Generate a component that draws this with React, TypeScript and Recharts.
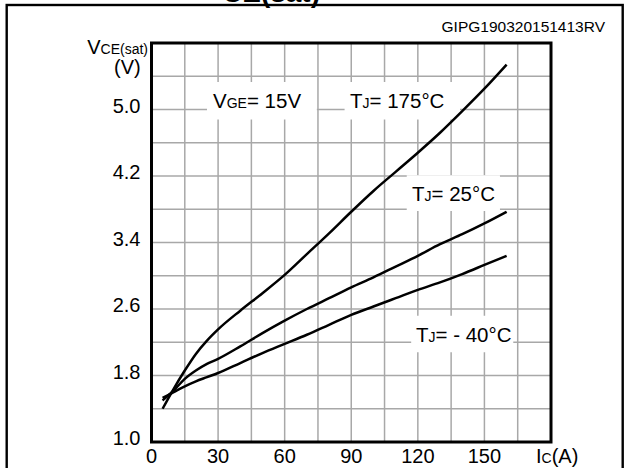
import React from 'react';
import { LineChart, Line, XAxis, YAxis, CartesianGrid, ReferenceArea } from 'recharts';

// collector current Ic (A)
const currents = [5, 10, 15, 20, 25, 30, 40, 50, 60, 70, 80, 90, 100, 110, 120, 130, 140, 150, 160];
// VCE(sat) (V) per junction temperature
const vceTj175 = [1.4, 1.64, 1.86, 2.06, 2.22, 2.355, 2.58, 2.79, 3.01, 3.26, 3.51, 3.77, 4.02, 4.25, 4.48, 4.72, 4.98, 5.25, 5.54];
const vceTj25 = [1.5, 1.62, 1.76, 1.86, 1.94, 2.0, 2.15, 2.31, 2.46, 2.6, 2.73, 2.86, 2.98, 3.11, 3.24, 3.38, 3.5, 3.63, 3.77];
const vceTjM40 = [1.53, 1.6, 1.67, 1.73, 1.78, 1.83, 1.95, 2.07, 2.18, 2.29, 2.41, 2.53, 2.63, 2.73, 2.83, 2.92, 3.02, 3.13, 3.24];

const xTicks = [0, 15, 30, 45, 60, 75, 90, 105, 120, 135, 150, 165, 180];
const xLabeled = [0, 30, 60, 90, 120, 150];
const yTicks = [1.0, 1.4, 1.8, 2.2, 2.6, 3.0, 3.4, 3.8, 4.2, 4.6, 5.0, 5.4, 5.8];
const yLabeled = [1.0, 1.8, 2.6, 3.4, 4.2, 5.0];

const data = currents.map((ic, i) => ({
  ic,
  t175: vceTj175[i],
  t25: vceTj25[i],
  tm40: vceTjM40[i],
}));

const FONT = '"Liberation Sans", Arial, sans-serif';
const W = 625;
const H = 468;
const MARGIN = { top: 43, right: 74, bottom: 0, left: 0 };
const X_AXIS_H = 26;

const XTick = (props: any) => {
  const { x, y, payload } = props;
  const v = payload.value;
  if (v === 180) {
    return (
      <text x={x - 15} y={y + 21} fontSize={20} fontFamily={FONT} fill="#000">
        I<tspan fontSize={14}>C</tspan>(A)
      </text>
    );
  }
  if (!xLabeled.includes(v)) return null;
  return (
    <text x={x} y={y + 21} textAnchor="middle" fontSize={20} fontFamily={FONT} fill="#000">
      {v}
    </text>
  );
};

const YTick = (props: any) => {
  const { x, y, payload } = props;
  const v = payload.value;
  if (!yLabeled.some((l) => Math.abs(l - v) < 1e-6)) return null;
  return (
    <text x={x} y={y + 3} textAnchor="end" fontSize={20} fontFamily={FONT} fill="#000">
      {v.toFixed(1)}
    </text>
  );
};

const Note = ({ x, y, main, sub, rest }: any) => (
  <text x={x} y={y} fontSize={20.5} fontFamily={FONT} fill="#000">
    {main}
    <tspan fontSize={14}>{sub}</tspan>
    {rest}
  </text>
);

const layer: React.CSSProperties = { position: 'absolute', left: 0, top: 0 };

export default function App() {
  return (
    <div style={{ position: 'absolute', left: 0, top: 0, width: W, height: H, background: '#fff', overflow: 'hidden' }}>
      {/* grid + tick labels */}
      <div style={layer}>
        <LineChart width={W} height={H} data={data} margin={MARGIN}>
          <CartesianGrid stroke="#a8a8a8" strokeWidth={1.5} />
          <XAxis dataKey="ic" type="number" domain={[0, 180]} ticks={xTicks} interval={0} height={X_AXIS_H}
            axisLine={false} tickLine={false} tickSize={0} tickMargin={0} tick={<XTick />} />
          <YAxis dataKey="t175" type="number" domain={[1, 5.8]} ticks={yTicks} interval={0} width={151.5}
            axisLine={false} tickLine={false} tickSize={0} tickMargin={11} tick={<YTick />} />
        </LineChart>
      </div>
      {/* white boxes behind the annotations */}
      <div style={layer}>
        <LineChart width={W} height={H} data={data} margin={MARGIN}>
          <XAxis dataKey="ic" type="number" domain={[0, 180]} ticks={xTicks} height={X_AXIS_H} axisLine={false} tickLine={false} tick={false} />
          <YAxis dataKey="t175" type="number" domain={[1, 5.8]} ticks={yTicks} width={151.5} axisLine={false} tickLine={false} tick={false} />
          <ReferenceArea x1={25} x2={74.5} y1={4.88} y2={5.33} fill="#fff" fillOpacity={1} stroke="none" />
          <ReferenceArea x1={87} x2={139} y1={4.88} y2={5.33} fill="#fff" fillOpacity={1} stroke="none" />
          <ReferenceArea x1={115} x2={157} y1={3.78} y2={4.21} fill="#fff" fillOpacity={1} stroke="none" />
          <ReferenceArea x1={117} x2={163} y1={2.08} y2={2.52} fill="#fff" fillOpacity={1} stroke="none" />
        </LineChart>
      </div>
      {/* curves */}
      <div style={layer}>
        <LineChart width={W} height={H} data={data} margin={MARGIN}>
          <XAxis dataKey="ic" type="number" domain={[0, 180]} ticks={xTicks} height={X_AXIS_H} axisLine={false} tickLine={false} tick={false} />
          <YAxis type="number" domain={[1, 5.8]} ticks={yTicks} width={151.5} axisLine={false} tickLine={false} tick={false} />
          <Line type="monotone" dataKey="t175" stroke="#000" strokeWidth={2.5} dot={false} isAnimationActive={false} />
          <Line type="monotone" dataKey="t25" stroke="#000" strokeWidth={2.5} dot={false} isAnimationActive={false} />
          <Line type="monotone" dataKey="tm40" stroke="#000" strokeWidth={2.5} dot={false} isAnimationActive={false} />
        </LineChart>
      </div>
      <svg width={W} height={H} style={{ ...layer, pointerEvents: 'none' }}>
        {/* outer frame */}
        <rect x={6.7} y={5} width={616} height={470} fill="none" stroke="#000" strokeWidth={2.4} />
        {/* clipped title */}
        <text x={205} y={-4} fontSize={28} fontWeight="bold" fontFamily={FONT} fill="#000">
          V<tspan x={222} y={2}>CE(sat)</tspan>
        </text>
        <text x={605} y={32} textAnchor="end" fontSize={15.5} fontFamily={FONT} fill="#000">
          GIPG190320151413RV
        </text>
        {/* y axis title */}
        <text x={148} y={54} textAnchor="end" fontSize={20} fontFamily={FONT} fill="#000">
          V<tspan fontSize={14}>CE(sat)</tspan>
        </text>
        <text x={114} y={74} fontSize={20} fontFamily={FONT} fill="#000">
          (V)
        </text>
        <Note x={213} y={108} main="V" sub="GE" rest="= 15V" />
        <Note x={350} y={108} main="T" sub="J" rest="= 175°C" />
        <Note x={412} y={201} main="T" sub="J" rest="= 25°C" />
        <Note x={416} y={342} main="T" sub="J" rest="= - 40°C" />
        {/* plot frame */}
        <rect x={151.5} y={43} width={399.5} height={399} fill="none" stroke="#000" strokeWidth={3} />
      </svg>
    </div>
  );
}
